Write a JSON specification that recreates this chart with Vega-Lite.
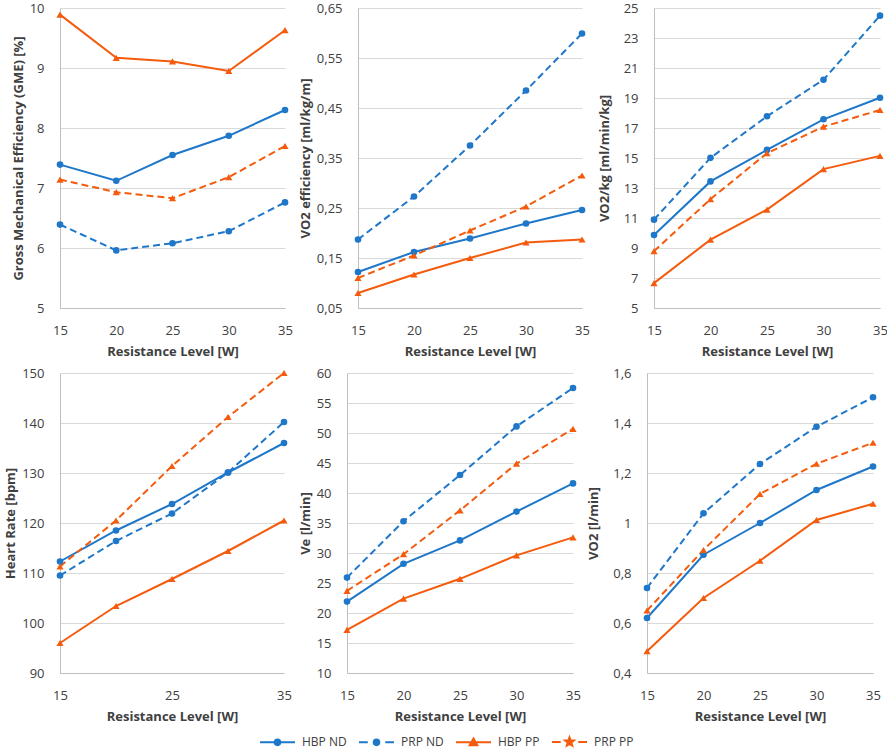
{
"$schema":"https://vega.github.io/schema/vega-lite/v6.json",
"padding":{"left":4,"top":2,"right":0,"bottom":0},
"datasets":{"d":[
{"p":1,"s":"HBP ND","x":15,"y":7.39},{"p":1,"s":"HBP ND","x":20,"y":7.12},{"p":1,"s":"HBP ND","x":25,"y":7.55},{"p":1,"s":"HBP ND","x":30,"y":7.87},{"p":1,"s":"HBP ND","x":35,"y":8.30},
{"p":1,"s":"PRP ND","x":15,"y":6.39},{"p":1,"s":"PRP ND","x":20,"y":5.96},{"p":1,"s":"PRP ND","x":25,"y":6.08},{"p":1,"s":"PRP ND","x":30,"y":6.28},{"p":1,"s":"PRP ND","x":35,"y":6.76},
{"p":1,"s":"HBP PP","x":15,"y":9.89},{"p":1,"s":"HBP PP","x":20,"y":9.17},{"p":1,"s":"HBP PP","x":25,"y":9.11},{"p":1,"s":"HBP PP","x":30,"y":8.95},{"p":1,"s":"HBP PP","x":35,"y":9.63},
{"p":1,"s":"PRP PP","x":15,"y":7.14},{"p":1,"s":"PRP PP","x":20,"y":6.93},{"p":1,"s":"PRP PP","x":25,"y":6.83},{"p":1,"s":"PRP PP","x":30,"y":7.18},{"p":1,"s":"PRP PP","x":35,"y":7.70},
{"p":2,"s":"HBP ND","x":15,"y":0.122},{"p":2,"s":"HBP ND","x":20,"y":0.162},{"p":2,"s":"HBP ND","x":25,"y":0.189},{"p":2,"s":"HBP ND","x":30,"y":0.219},{"p":2,"s":"HBP ND","x":35,"y":0.246},
{"p":2,"s":"PRP ND","x":15,"y":0.187},{"p":2,"s":"PRP ND","x":20,"y":0.273},{"p":2,"s":"PRP ND","x":25,"y":0.375},{"p":2,"s":"PRP ND","x":30,"y":0.485},{"p":2,"s":"PRP ND","x":35,"y":0.599},
{"p":2,"s":"HBP PP","x":15,"y":0.080},{"p":2,"s":"HBP PP","x":20,"y":0.117},{"p":2,"s":"HBP PP","x":25,"y":0.150},{"p":2,"s":"HBP PP","x":30,"y":0.181},{"p":2,"s":"HBP PP","x":35,"y":0.187},
{"p":2,"s":"PRP PP","x":15,"y":0.110},{"p":2,"s":"PRP PP","x":20,"y":0.155},{"p":2,"s":"PRP PP","x":25,"y":0.205},{"p":2,"s":"PRP PP","x":30,"y":0.253},{"p":2,"s":"PRP PP","x":35,"y":0.315},
{"p":3,"s":"HBP ND","x":15,"y":9.87},{"p":3,"s":"HBP ND","x":20,"y":13.44},{"p":3,"s":"HBP ND","x":25,"y":15.54},{"p":3,"s":"HBP ND","x":30,"y":17.58},{"p":3,"s":"HBP ND","x":35,"y":19.02},
{"p":3,"s":"PRP ND","x":15,"y":10.89},{"p":3,"s":"PRP ND","x":20,"y":15.01},{"p":3,"s":"PRP ND","x":25,"y":17.78},{"p":3,"s":"PRP ND","x":30,"y":20.22},{"p":3,"s":"PRP ND","x":35,"y":24.49},
{"p":3,"s":"HBP PP","x":15,"y":6.66},{"p":3,"s":"HBP PP","x":20,"y":9.56},{"p":3,"s":"HBP PP","x":25,"y":11.56},{"p":3,"s":"HBP PP","x":30,"y":14.26},{"p":3,"s":"HBP PP","x":35,"y":15.14},
{"p":3,"s":"PRP PP","x":15,"y":8.79},{"p":3,"s":"PRP PP","x":20,"y":12.26},{"p":3,"s":"PRP PP","x":25,"y":15.32},{"p":3,"s":"PRP PP","x":30,"y":17.09},{"p":3,"s":"PRP PP","x":35,"y":18.2},
{"p":4,"s":"HBP ND","x":15,"y":112.3},{"p":4,"s":"HBP ND","x":20,"y":118.5},{"p":4,"s":"HBP ND","x":25,"y":123.8},{"p":4,"s":"HBP ND","x":30,"y":130.1},{"p":4,"s":"HBP ND","x":35,"y":136.0},
{"p":4,"s":"PRP ND","x":15,"y":109.5},{"p":4,"s":"PRP ND","x":20,"y":116.4},{"p":4,"s":"PRP ND","x":25,"y":121.9},{"p":4,"s":"PRP ND","x":30,"y":130.1},{"p":4,"s":"PRP ND","x":35,"y":140.2},
{"p":4,"s":"HBP PP","x":15,"y":96.0},{"p":4,"s":"HBP PP","x":20,"y":103.4},{"p":4,"s":"HBP PP","x":25,"y":108.8},{"p":4,"s":"HBP PP","x":30,"y":114.4},{"p":4,"s":"HBP PP","x":35,"y":120.5},
{"p":4,"s":"PRP PP","x":15,"y":111.3},{"p":4,"s":"PRP PP","x":20,"y":120.5},{"p":4,"s":"PRP PP","x":25,"y":131.4},{"p":4,"s":"PRP PP","x":30,"y":141.2},{"p":4,"s":"PRP PP","x":35,"y":150.0},
{"p":5,"s":"HBP ND","x":15,"y":21.9},{"p":5,"s":"HBP ND","x":20,"y":28.2},{"p":5,"s":"HBP ND","x":25,"y":32.1},{"p":5,"s":"HBP ND","x":30,"y":36.9},{"p":5,"s":"HBP ND","x":35,"y":41.6},
{"p":5,"s":"PRP ND","x":15,"y":25.9},{"p":5,"s":"PRP ND","x":20,"y":35.3},{"p":5,"s":"PRP ND","x":25,"y":43.0},{"p":5,"s":"PRP ND","x":30,"y":51.1},{"p":5,"s":"PRP ND","x":35,"y":57.5},
{"p":5,"s":"HBP PP","x":15,"y":17.2},{"p":5,"s":"HBP PP","x":20,"y":22.4},{"p":5,"s":"HBP PP","x":25,"y":25.7},{"p":5,"s":"HBP PP","x":30,"y":29.6},{"p":5,"s":"HBP PP","x":35,"y":32.6},
{"p":5,"s":"PRP PP","x":15,"y":23.7},{"p":5,"s":"PRP PP","x":20,"y":29.8},{"p":5,"s":"PRP PP","x":25,"y":37.1},{"p":5,"s":"PRP PP","x":30,"y":44.9},{"p":5,"s":"PRP PP","x":35,"y":50.7},
{"p":6,"s":"HBP ND","x":15,"y":0.62},{"p":6,"s":"HBP ND","x":20,"y":0.873},{"p":6,"s":"HBP ND","x":25,"y":1.0},{"p":6,"s":"HBP ND","x":30,"y":1.132},{"p":6,"s":"HBP ND","x":35,"y":1.226},
{"p":6,"s":"PRP ND","x":15,"y":0.74},{"p":6,"s":"PRP ND","x":20,"y":1.039},{"p":6,"s":"PRP ND","x":25,"y":1.236},{"p":6,"s":"PRP ND","x":30,"y":1.385},{"p":6,"s":"PRP ND","x":35,"y":1.503},
{"p":6,"s":"HBP PP","x":15,"y":0.487},{"p":6,"s":"HBP PP","x":20,"y":0.70},{"p":6,"s":"HBP PP","x":25,"y":0.849},{"p":6,"s":"HBP PP","x":30,"y":1.012},{"p":6,"s":"HBP PP","x":35,"y":1.077},
{"p":6,"s":"PRP PP","x":15,"y":0.65},{"p":6,"s":"PRP PP","x":20,"y":0.892},{"p":6,"s":"PRP PP","x":25,"y":1.116},{"p":6,"s":"PRP PP","x":30,"y":1.237},{"p":6,"s":"PRP PP","x":35,"y":1.321}
]},
"data":{"name":"d"},
"columns":3,
"align":"none",
"spacing":{"row":9,"column":6},
"concat":[
{"width":225,"height":300,"transform":[{"filter":"datum.p == 1"}],
 "encoding":{
  "x":{"field":"x","type":"quantitative","scale":{"domain":[15,35],"nice":false,"zero":false},"axis":{"title":"Resistance Level [W]","values":[15,20,25,30,35]}},
  "y":{"field":"y","type":"quantitative","scale":{"domain":[5,10],"nice":false,"zero":false},"axis":{"title":"Gross Mechanical Efficiency (GME) [%]","values":[5,6,7,8,9,10]}},
  "color":{"field":"s","type":"nominal","scale":{"domain":["HBP ND","PRP ND","HBP PP","PRP PP"],"range":["#1F77C9","#1F77C9","#F45B0C","#F45B0C"]},
   "legend":{"title":null,"orient":"bottom","direction":"horizontal","symbolSize":1225,"symbolStrokeWidth":2,"labelOffset":6,"columnPadding":8,"offset":0,
    "encode":{"symbols":{"update":{
     "shape":{"signal":"datum.value === 'HBP ND' ? 'M-1,0L1,0M0.16,0A0.16,0.16 0 1,1 -0.16,0A0.16,0.16 0 1,1 0.16,0Z' : datum.value === 'PRP ND' ? 'M-1,0L-0.5,0M0.5,0L1,0M0.16,0A0.16,0.16 0 1,1 -0.16,0A0.16,0.16 0 1,1 0.16,0Z' : datum.value === 'HBP PP' ? 'M-1,0L1,0M0,-0.22L0.22,0.17L-0.22,0.17Z' : 'M-1,0L-0.5,0M0.5,0L1,0M0,-0.26L0.065,-0.089L0.247,-0.08L0.105,0.034L0.153,0.21L0,0.11L-0.153,0.21L-0.105,0.034L-0.247,-0.08L-0.065,-0.089Z'"},
     "fill":{"signal":"indexof(datum.value,'ND') >= 0 ? '#1F77C9' : '#F45B0C'"},
     "stroke":{"signal":"indexof(datum.value,'ND') >= 0 ? '#1F77C9' : '#F45B0C'"},
     "opacity":{"value":1},"fillOpacity":{"value":1},"strokeOpacity":{"value":1}}}}}}
 },
 "layer":[
  {"transform":[{"filter":"indexof(datum.s,'HBP') === 0"}],"mark":{"type":"line","strokeWidth":2},"encoding":{}},
  {"transform":[{"filter":"indexof(datum.s,'PRP') === 0"}],"mark":{"type":"line","strokeWidth":2,"strokeDash":[7,4]},"encoding":{}},
  {"transform":[{"filter":"indexof(datum.s,'ND') >= 0"}],"mark":{"type":"point","shape":"circle","filled":true,"opacity":1,"size":44},"encoding":{}},
  {"transform":[{"filter":"indexof(datum.s,'PP') >= 0"}],"mark":{"type":"point","shape":"triangle-up","filled":true,"opacity":1,"size":52},"encoding":{}}
 ]},
{"width":224,"height":300,"transform":[{"filter":"datum.p == 2"}],
 "encoding":{
  "x":{"field":"x","type":"quantitative","scale":{"domain":[15,35],"nice":false,"zero":false},"axis":{"title":"Resistance Level [W]","values":[15,20,25,30,35]}},
  "y":{"field":"y","type":"quantitative","scale":{"domain":[0.05,0.65],"nice":false,"zero":false},"axis":{"title":"VO2 efficiency [ml/kg/m]","values":[0.05,0.15,0.25,0.35,0.45,0.55,0.65],"labelExpr":"replace(format(datum.value,'.2f'),'.',',')"}},
  "color":{"field":"s","type":"nominal","scale":{"domain":["HBP ND","PRP ND","HBP PP","PRP PP"],"range":["#1F77C9","#1F77C9","#F45B0C","#F45B0C"]}}
 },
 "layer":[
  {"transform":[{"filter":"indexof(datum.s,'HBP') === 0"}],"mark":{"type":"line","strokeWidth":2},"encoding":{}},
  {"transform":[{"filter":"indexof(datum.s,'PRP') === 0"}],"mark":{"type":"line","strokeWidth":2,"strokeDash":[7,4]},"encoding":{}},
  {"transform":[{"filter":"indexof(datum.s,'ND') >= 0"}],"mark":{"type":"point","shape":"circle","filled":true,"opacity":1,"size":44},"encoding":{}},
  {"transform":[{"filter":"indexof(datum.s,'PP') >= 0"}],"mark":{"type":"point","shape":"triangle-up","filled":true,"opacity":1,"size":52},"encoding":{}}
 ]},
{"width":226,"height":300,"transform":[{"filter":"datum.p == 3"}],
 "encoding":{
  "x":{"field":"x","type":"quantitative","scale":{"domain":[15,35],"nice":false,"zero":false},"axis":{"title":"Resistance Level [W]","values":[15,20,25,30,35]}},
  "y":{"field":"y","type":"quantitative","scale":{"domain":[5,25],"nice":false,"zero":false},"axis":{"title":"VO2/kg [ml/min/kg]","titlePadding":12,"values":[5,7,9,11,13,15,17,19,21,23,25]}},
  "color":{"field":"s","type":"nominal","scale":{"domain":["HBP ND","PRP ND","HBP PP","PRP PP"],"range":["#1F77C9","#1F77C9","#F45B0C","#F45B0C"]}}
 },
 "layer":[
  {"transform":[{"filter":"indexof(datum.s,'HBP') === 0"}],"mark":{"type":"line","strokeWidth":2},"encoding":{}},
  {"transform":[{"filter":"indexof(datum.s,'PRP') === 0"}],"mark":{"type":"line","strokeWidth":2,"strokeDash":[7,4]},"encoding":{}},
  {"transform":[{"filter":"indexof(datum.s,'ND') >= 0"}],"mark":{"type":"point","shape":"circle","filled":true,"opacity":1,"size":44},"encoding":{}},
  {"transform":[{"filter":"indexof(datum.s,'PP') >= 0"}],"mark":{"type":"point","shape":"triangle-up","filled":true,"opacity":1,"size":52},"encoding":{}}
 ]},
{"width":224,"height":300,"transform":[{"filter":"datum.p == 4"}],
 "encoding":{
  "x":{"field":"x","type":"quantitative","scale":{"domain":[15,35],"nice":false,"zero":false},"axis":{"title":"Resistance Level [W]","values":[15,25,35]}},
  "y":{"field":"y","type":"quantitative","scale":{"domain":[90,150],"nice":false,"zero":false},"axis":{"title":"Heart Rate [bpm]","values":[90,100,110,120,130,140,150]}},
  "color":{"field":"s","type":"nominal","scale":{"domain":["HBP ND","PRP ND","HBP PP","PRP PP"],"range":["#1F77C9","#1F77C9","#F45B0C","#F45B0C"]}}
 },
 "layer":[
  {"transform":[{"filter":"indexof(datum.s,'HBP') === 0"}],"mark":{"type":"line","strokeWidth":2},"encoding":{}},
  {"transform":[{"filter":"indexof(datum.s,'PRP') === 0"}],"mark":{"type":"line","strokeWidth":2,"strokeDash":[7,4]},"encoding":{}},
  {"transform":[{"filter":"indexof(datum.s,'ND') >= 0"}],"mark":{"type":"point","shape":"circle","filled":true,"opacity":1,"size":44},"encoding":{}},
  {"transform":[{"filter":"indexof(datum.s,'PP') >= 0"}],"mark":{"type":"point","shape":"triangle-up","filled":true,"opacity":1,"size":52},"encoding":{}}
 ]},
{"width":226,"height":300,"transform":[{"filter":"datum.p == 5"}],
 "encoding":{
  "x":{"field":"x","type":"quantitative","scale":{"domain":[15,35],"nice":false,"zero":false},"axis":{"title":"Resistance Level [W]","values":[15,20,25,30,35]}},
  "y":{"field":"y","type":"quantitative","scale":{"domain":[10,60],"nice":false,"zero":false},"axis":{"title":"Ve [l/min]","values":[10,15,20,25,30,35,40,45,50,55,60]}},
  "color":{"field":"s","type":"nominal","scale":{"domain":["HBP ND","PRP ND","HBP PP","PRP PP"],"range":["#1F77C9","#1F77C9","#F45B0C","#F45B0C"]}}
 },
 "layer":[
  {"transform":[{"filter":"indexof(datum.s,'HBP') === 0"}],"mark":{"type":"line","strokeWidth":2},"encoding":{}},
  {"transform":[{"filter":"indexof(datum.s,'PRP') === 0"}],"mark":{"type":"line","strokeWidth":2,"strokeDash":[7,4]},"encoding":{}},
  {"transform":[{"filter":"indexof(datum.s,'ND') >= 0"}],"mark":{"type":"point","shape":"circle","filled":true,"opacity":1,"size":44},"encoding":{}},
  {"transform":[{"filter":"indexof(datum.s,'PP') >= 0"}],"mark":{"type":"point","shape":"triangle-up","filled":true,"opacity":1,"size":52},"encoding":{}}
 ]},
{"width":226,"height":300,"transform":[{"filter":"datum.p == 6"}],
 "encoding":{
  "x":{"field":"x","type":"quantitative","scale":{"domain":[15,35],"nice":false,"zero":false},"axis":{"title":"Resistance Level [W]","values":[15,20,25,30,35]}},
  "y":{"field":"y","type":"quantitative","scale":{"domain":[0.4,1.6],"nice":false,"zero":false},"axis":{"title":"VO2 [l/min]","titlePadding":12,"values":[0.4,0.6,0.8,1.0,1.2,1.4,1.6],"labelExpr":"replace(format(datum.value,'.1~f'),'.',',')"}},
  "color":{"field":"s","type":"nominal","scale":{"domain":["HBP ND","PRP ND","HBP PP","PRP PP"],"range":["#1F77C9","#1F77C9","#F45B0C","#F45B0C"]}}
 },
 "layer":[
  {"transform":[{"filter":"indexof(datum.s,'HBP') === 0"}],"mark":{"type":"line","strokeWidth":2},"encoding":{}},
  {"transform":[{"filter":"indexof(datum.s,'PRP') === 0"}],"mark":{"type":"line","strokeWidth":2,"strokeDash":[7,4]},"encoding":{}},
  {"transform":[{"filter":"indexof(datum.s,'ND') >= 0"}],"mark":{"type":"point","shape":"circle","filled":true,"opacity":1,"size":44},"encoding":{}},
  {"transform":[{"filter":"indexof(datum.s,'PP') >= 0"}],"mark":{"type":"point","shape":"triangle-up","filled":true,"opacity":1,"size":52},"encoding":{}}
 ]}
],
"config":{
 "font":"Open Sans",
 "view":{"stroke":null},
 "axis":{"labelFont":"Open Sans","labelFontSize":13,"labelColor":"#404040","titleFont":"Open Sans","titleFontSize":13,"titleFontWeight":"bold","titleColor":"#404040","ticks":false,"domainColor":"#bfbfbf","gridColor":"#d9d9d9","labelFlush":false,"labelOverlap":false},
 "axisX":{"grid":false,"labelPadding":16,"titlePadding":8},
 "axisY":{"grid":true,"labelPadding":16,"titlePadding":4},
 "legend":{"labelFont":"Open Sans","labelFontSize":12,"labelColor":"#404040","layout":{"bottom":{"anchor":"middle"}}}
}
}
